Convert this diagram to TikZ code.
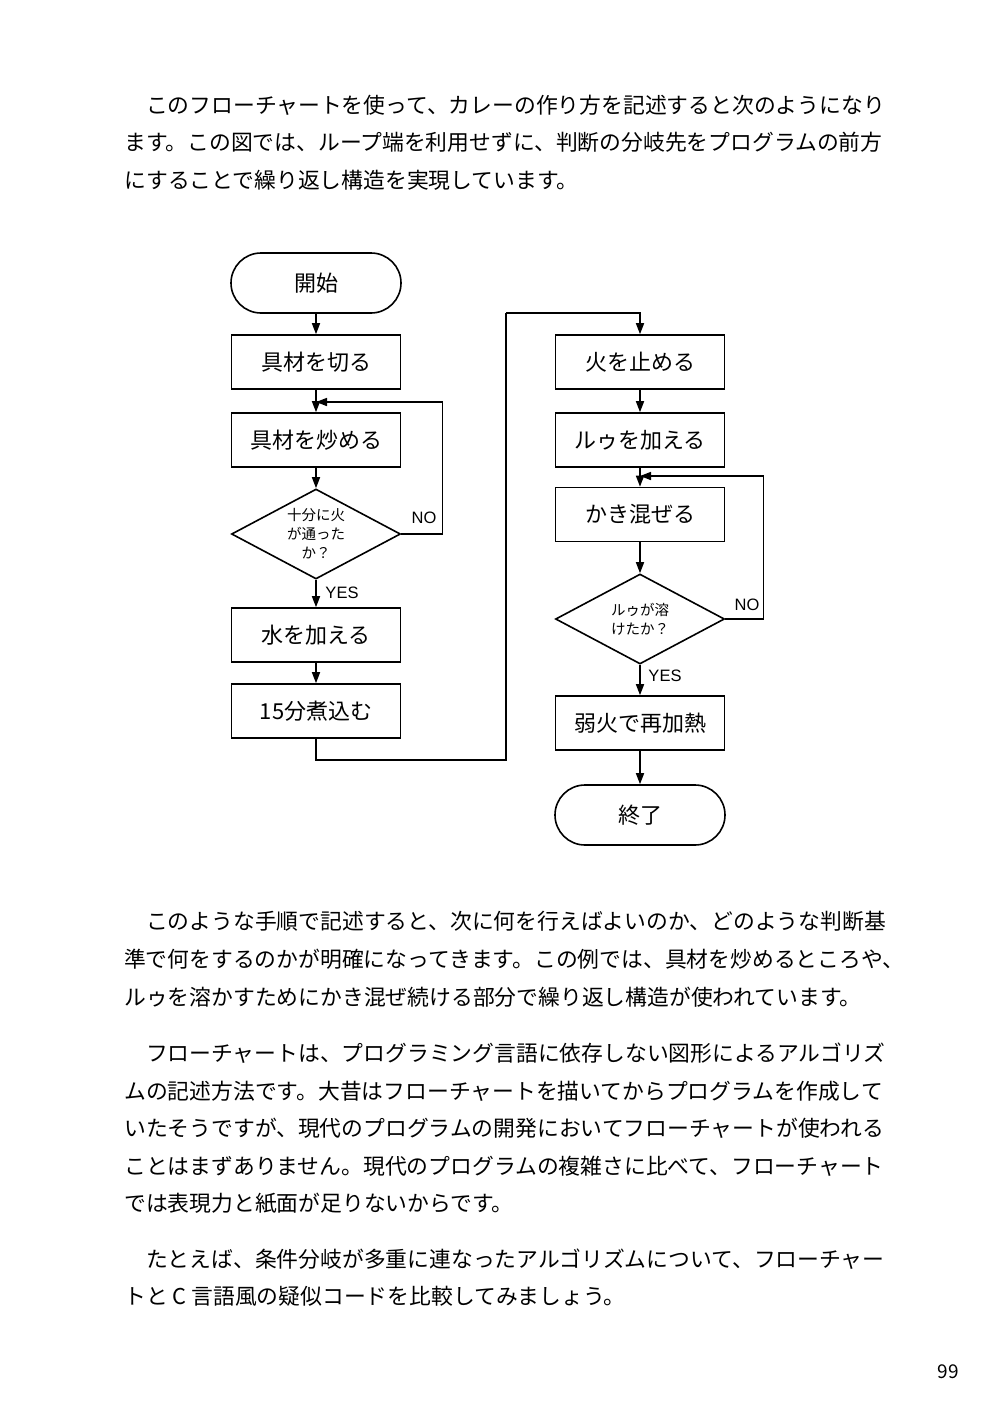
\documentclass[tikz,border=0pt]{standalone}
\usepackage{fontspec}
\usepackage{graphicx}
\setmainfont{Noto Sans CJK JP}
\newfontfamily\yesnofont{Liberation Sans}
\usetikzlibrary{arrows.meta, shapes.geometric, shapes.misc}

\begin{document}
\begin{tikzpicture}[x=1pt, y=-1pt,
	body/.style={anchor=west, inner sep=0pt, font=\fontsize{21.8pt}{26pt}\selectfont},
	proc/.style={rectangle, draw, line width=1.6pt, minimum width=169pt, minimum height=54pt, inner sep=0pt, font=\fontsize{22pt}{26pt}\selectfont},
	term/.style={rounded rectangle, draw, line width=1.6pt, minimum width=170pt, minimum height=60pt, inner sep=0pt, font=\fontsize{22pt}{26pt}\selectfont},
	dec/.style={diamond, draw, line width=1.6pt, minimum width=169pt, minimum height=90pt, shape aspect=1.9, inner sep=0pt, align=center, font=\fontsize{14.5pt}{19pt}\selectfont},
	yn/.style={inner sep=0pt, font=\fontsize{16.5pt}{18pt}\selectfont\yesnofont},
	flow/.style={line width=1.6pt, -{Triangle[length=11pt, width=8pt]}},
	wire/.style={line width=1.6pt}]
	\useasboundingbox [fill=white] (0, 0) rectangle (1000, 1419);

	% text above the chart
	\node (p1a) at (124, 105) [body] {　このフローチャートを使って、カレーの作り方を記述すると次のようになり};
	\node (p1b) at (124, 142.5) [body] {ます。この図では、ループ端を利用せずに、判断の分岐先をプログラムの前方};
	\node (p1c) at (124, 180) [body] {にすることで繰り返し構造を実現しています。};

	% left column
	\node (start) at (316, 283) [term] {開始};
	\node (cut) at (316, 362) [proc] {具材を切る};
	\node (fry) at (316, 440) [proc] {具材を炒める};
	\node (done) at (316, 534) [dec] {十分に火\\が通った\\か？};
	\node (water) at (316, 635) [proc] {水を加える};
	\node (boil) at (316, 711) [proc] {15分煮込む};

	\coordinate (join1) at (316, 402);
	\draw [flow] (start) -- (cut);
	\draw [flow] (cut) -- (fry);
	\draw [flow] (fry) -- (done);
	\draw [flow] (done.east) -- ++(41, 0) |- (join1);
	\node (no1) at (424, 518) [yn] {NO};
	\draw [flow] (done) -- (water);
	\node (yes1) at (342, 593) [yn] {YES};
	\draw [flow] (water) -- (boil);

	% right column
	\node (stop) at (640, 362) [proc] {火を止める};
	\node (roux) at (640, 440) [proc] {ルゥを加える};
	\node (stir) at (640, 514.5) [proc] {かき混ぜる};
	\node (melt) at (640, 619) [dec] {ルゥが溶\\けたか？};
	\node (heat) at (640, 723) [proc] {弱火で再加熱};
	\node (end) at (640, 815) [term] {終了};

	\coordinate (bend1) at (506, 760);
	\coordinate (bend2) at (506, 313);
	\draw [wire] (boil.south) |- (bend1) -- (bend2);
	\draw [flow] (bend2) -| (stop.north);

	\coordinate (join2) at (640, 476);
	\draw [flow] (stop) -- (roux);
	\draw [flow] (roux) -- (stir);
	\draw [flow] (stir) -- (melt);
	\draw [flow] (melt.east) -- ++(38, 0) |- (join2);
	\node (no2) at (747, 605) [yn] {NO};
	\draw [flow] (melt) -- (heat);
	\node (yes2) at (665, 676) [yn] {YES};
	\draw [flow] (heat) -- (end);

	% text below the chart
	\node (p2a) at (124, 921) [body] {　このような手順で記述すると、次に何を行えばよいのか、どのような判断基};
	\node (p2b) at (124, 959) [body] {\resizebox{780pt}{\height}{準で何をするのかが明確になってきます。この例では、具材を炒めるところや、}};
	\node (p2c) at (124, 997) [body] {ルゥを溶かすためにかき混ぜ続ける部分で繰り返し構造が使われています。};

	\node (p3a) at (124, 1053) [body] {　フローチャートは、プログラミング言語に依存しない図形によるアルゴリズ};
	\node (p3b) at (124, 1091) [body] {ムの記述方法です。大昔はフローチャートを描いてからプログラムを作成して};
	\node (p3c) at (124, 1128) [body] {いたそうですが、現代のプログラムの開発においてフローチャートが使われる};
	\node (p3d) at (124, 1166) [body] {ことはまずありません。現代のプログラムの複雑さに比べて、フローチャート};
	\node (p3e) at (124, 1203) [body] {では表現力と紙面が足りないからです。};

	\node (p4a) at (124, 1259) [body] {　たとえば、条件分岐が多重に連なったアルゴリズムについて、フローチャー};
	\node (p4b) at (124, 1296) [body] {トと C 言語風の疑似コードを比較してみましょう。};

	\node (pagenum) at (948, 1372) [inner sep=0pt, font=\fontsize{19pt}{22pt}\selectfont] {99};
\end{tikzpicture}
\end{document}
